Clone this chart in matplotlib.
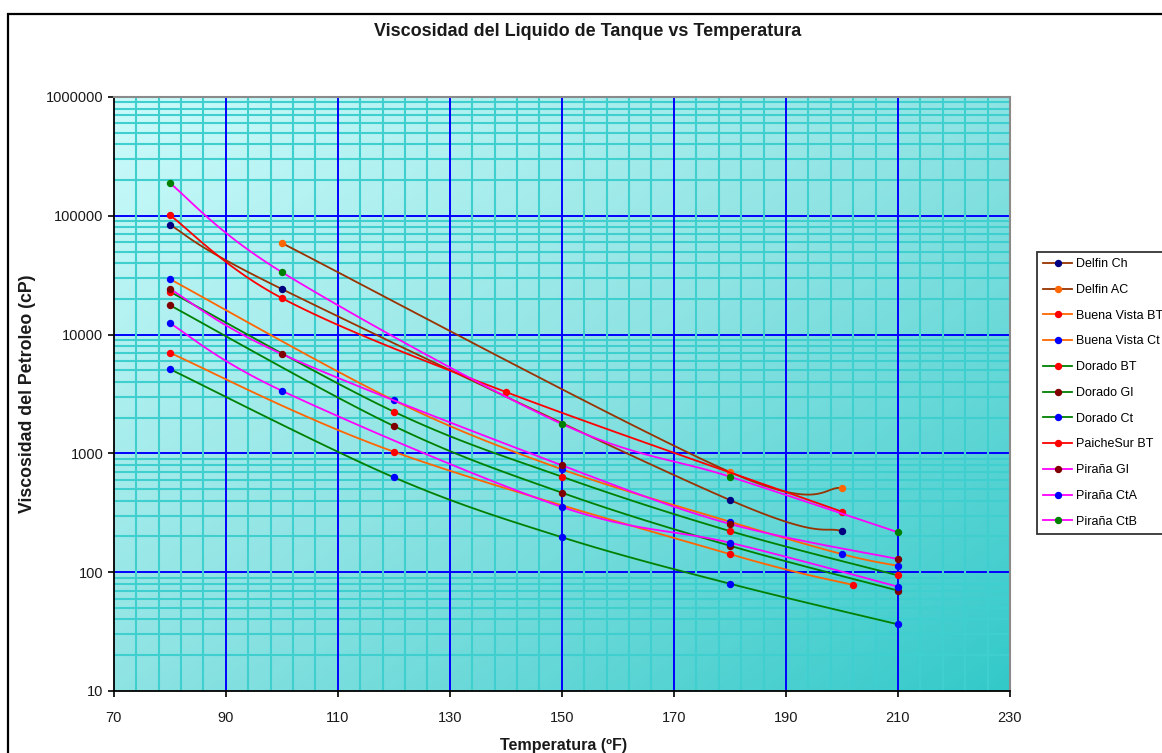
import numpy as np
import matplotlib
matplotlib.use("Agg")
import matplotlib.pyplot as plt
from matplotlib.lines import Line2D
from matplotlib.patches import Rectangle
from matplotlib.colors import LinearSegmentedColormap
from matplotlib.ticker import FixedLocator, FuncFormatter, NullFormatter

plt.rcParams['font.family'] = ['Liberation Sans', 'DejaVu Sans']

# ---------------- data ----------------
series_names = ["Delfin Ch", "Delfin AC", "Buena Vista BT", "Buena Vista Ct",
                "Dorado BT", "Dorado GI", "Dorado Ct", "PaicheSur BT",
                "Piraña GI", "Piraña CtA", "Piraña CtB"]

delfin_ch_t = [80, 100, 180, 200]
delfin_ch_v = [84000, 24200, 405, 222]

delfin_ac_t = [100, 180, 200]
delfin_ac_v = [59000, 697, 511]

buena_vista_bt_t = [80, 120, 180, 202]
buena_vista_bt_v = [7040, 1033, 142, 78]

buena_vista_ct_t = [80, 120, 150, 180, 200, 210]
buena_vista_ct_v = [29400, 2800, 735, 266, 142, 113]

dorado_bt_t = [80, 120, 150, 180, 210]
dorado_bt_v = [23000, 2245, 637, 222, 94]

dorado_gi_t = [80, 120, 150, 180, 210]
dorado_gi_v = [17700, 1700, 467, 167, 70]

dorado_ct_t = [80, 120, 150, 180, 210]
dorado_ct_v = [5130, 629, 197, 80, 36.4]

paichesur_bt_t = [80, 100, 140, 200]
paichesur_bt_v = [101600, 20300, 3290, 323]

pirana_gi_t = [80, 100, 150, 180, 210]
pirana_gi_v = [24300, 6870, 794, 255, 129]

pirana_cta_t = [80, 100, 150, 180, 210]
pirana_cta_v = [12500, 3370, 354, 177, 75.5]

pirana_ctb_t = [80, 100, 150, 180, 210]
pirana_ctb_v = [189000, 33600, 1770, 637, 217]

x_ticks = [70, 90, 110, 130, 150, 170, 190, 210, 230]
y_ticks = [10, 100, 1000, 10000, 100000, 1000000]

# ---------------- styles ----------------
BROWN = "#993300"
ORANGE = "#FF6600"
GREEN = "#008000"
RED = "#FF0000"
MAGENTA = "#FF00FF"
NAVY = "#000080"
BLUE = "#0000FF"
MAROON = "#800000"

series = [
    (delfin_ch_t, delfin_ch_v, BROWN, NAVY),
    (delfin_ac_t, delfin_ac_v, BROWN, ORANGE),
    (buena_vista_bt_t, buena_vista_bt_v, ORANGE, RED),
    (buena_vista_ct_t, buena_vista_ct_v, ORANGE, BLUE),
    (dorado_bt_t, dorado_bt_v, GREEN, RED),
    (dorado_gi_t, dorado_gi_v, GREEN, MAROON),
    (dorado_ct_t, dorado_ct_v, GREEN, BLUE),
    (paichesur_bt_t, paichesur_bt_v, RED, RED),
    (pirana_gi_t, pirana_gi_v, MAGENTA, MAROON),
    (pirana_cta_t, pirana_cta_v, MAGENTA, BLUE),
    (pirana_ctb_t, pirana_ctb_v, MAGENTA, GREEN),
]


def smooth_curve(t, v, n=24):
    """Excel-like smoothed line (Catmull-Rom Bezier) drawn in (x, log y) space."""
    x = np.asarray(t, float)
    y = np.log10(np.asarray(v, float))
    if len(x) < 3:
        return x, 10 ** y
    px = np.concatenate([[x[0]], x, [x[-1]]])
    py = np.concatenate([[y[0]], y, [y[-1]]])
    xs, ys = [], []
    s = np.linspace(0, 1, n)
    for i in range(1, len(px) - 2):
        p0 = np.array([px[i], py[i]])
        p3 = np.array([px[i + 1], py[i + 1]])
        c1 = p0 + (np.array([px[i + 1], py[i + 1]]) - np.array([px[i - 1], py[i - 1]])) / 6.0
        c2 = p3 - (np.array([px[i + 2], py[i + 2]]) - np.array([px[i], py[i]])) / 6.0
        b = ((1 - s) ** 3)[:, None] * p0 + (3 * (1 - s) ** 2 * s)[:, None] * c1 \
            + (3 * (1 - s) * s ** 2)[:, None] * c2 + (s ** 3)[:, None] * p3
        xs.append(b[:, 0])
        ys.append(b[:, 1])
    return np.concatenate(xs), 10 ** np.concatenate(ys)


W, H = 1162, 753
fig = plt.figure(figsize=(W / 100, H / 100), dpi=100)
fig.patch.set_facecolor("white")

x0, x1 = 113.7, 1010
y0, y1 = 97, 691
ax = fig.add_axes([x0 / W, 1 - y1 / H, (x1 - x0) / W, (y1 - y0) / H])

# gradient background: light cyan top-left -> teal bottom-right
gx, gy = np.meshgrid(np.linspace(0, 1, 300), np.linspace(0, 1, 300))
grad = (gx + gy) / 2.0  # row 0 = top
cmap = LinearSegmentedColormap.from_list("bg", ["#CCFBFB", "#8EE3E3", "#33C9C9"])
ax.imshow(grad, cmap=cmap, extent=[0, 1, 0, 1], transform=ax.transAxes,
          aspect="auto", origin="upper", zorder=0, interpolation="bilinear")

ax.set_xlim(70, 230)
ax.set_yscale("log")
ax.set_ylim(10, 1000000)

ax.xaxis.set_major_locator(FixedLocator(x_ticks))
ax.xaxis.set_minor_locator(FixedLocator([]))
ax.yaxis.set_major_locator(FixedLocator(y_ticks))
ax.yaxis.set_minor_locator(FixedLocator([]))
ax.yaxis.set_major_formatter(FuncFormatter(lambda v, p: f"{int(round(v))}"))
ax.yaxis.set_minor_formatter(NullFormatter())

# gridlines drawn explicitly to control layering
GRID_MINOR = "#3FCFCF"
GRID_MAJOR = "#0000FF"
y_minor = [m * 10 ** e for e in range(1, 6) for m in range(2, 10)]
x_minor = [v for v in range(70, 231, 4) if v not in x_ticks]
for yv in y_minor:
    ax.axhline(yv, color=GRID_MINOR, linewidth=1.5, zorder=1.0)
for yv in y_ticks[1:-1]:
    ax.axhline(yv, color=GRID_MAJOR, linewidth=1.4, zorder=1.1)
for xv in x_minor:
    ax.axvline(xv, color=GRID_MINOR, linewidth=1.5, zorder=1.2)
for xv in x_ticks[1:-1]:
    ax.axvline(xv, color=GRID_MAJOR, linewidth=1.4, zorder=1.3)

ax.tick_params(which="minor", length=0)
ax.tick_params(which="major", direction="out", length=4.5, width=1.2,
               color="black", labelsize=10.5, labelcolor="#1a1a1a", pad=3)
ax.tick_params(axis="x", pad=10)

for side in ["top", "right"]:
    ax.spines[side].set_color("#8a8a8a")
    ax.spines[side].set_linewidth(1.5)
for side in ["left", "bottom"]:
    ax.spines[side].set_color("black")
    ax.spines[side].set_linewidth(1.3)

handles = []
for k, (t, v, lc, mc) in enumerate(series):
    sx, sy = smooth_curve(t, v)
    ax.plot(sx, sy, color=lc, linewidth=1.3, zorder=3 + k * 0.1, solid_capstyle="round")
    ax.plot(t, v, linestyle="none", marker="o", markersize=4.3,
            markerfacecolor=mc, markeredgecolor=mc, zorder=3.05 + k * 0.1)
    handles.append(Line2D([], [], color=lc, linewidth=1.3, marker="o", markersize=4.3,
                          markerfacecolor=mc, markeredgecolor=mc))

# titles / labels
fig.text(588 / W, 1 - 32 / H, "Viscosidad del Liquido de Tanque vs Temperatura",
         ha="center", va="center", fontsize=13, fontweight="bold", color="#1a1a1a")
fig.text(28 / W, 1 - 394 / H, "Viscosidad del Petroleo (cP)", rotation=90,
         ha="center", va="center", fontsize=12.8, fontweight="bold", color="#1a1a1a")
fig.text(564 / W, 1 - 738 / H, "Temperatura (ºF)", ha="center", va="top",
         fontsize=11.6, fontweight="bold", color="#1a1a1a")

# legend
leg = fig.legend(handles, series_names, loc="upper left",
                 bbox_to_anchor=(1037 / W, 1 - 252 / H), bbox_transform=fig.transFigure,
                 frameon=True, fancybox=False, shadow=False, fontsize=9.0,
                 handlelength=2.3, handletextpad=0.3, labelspacing=1.1,
                 borderpad=0.5, borderaxespad=0)
leg.get_frame().set_edgecolor("black")
leg.get_frame().set_linewidth(1.3)
leg.get_frame().set_facecolor("white")

# outer chart border (extends beyond the image on right/bottom)
fig.patches.append(Rectangle((8 / W, -0.5), 2.0, (1 - 14 / H) + 0.5,
                             transform=fig.transFigure, fill=False,
                             edgecolor="black", linewidth=1.6, zorder=10))

fig.savefig("out.png", dpi=100)
